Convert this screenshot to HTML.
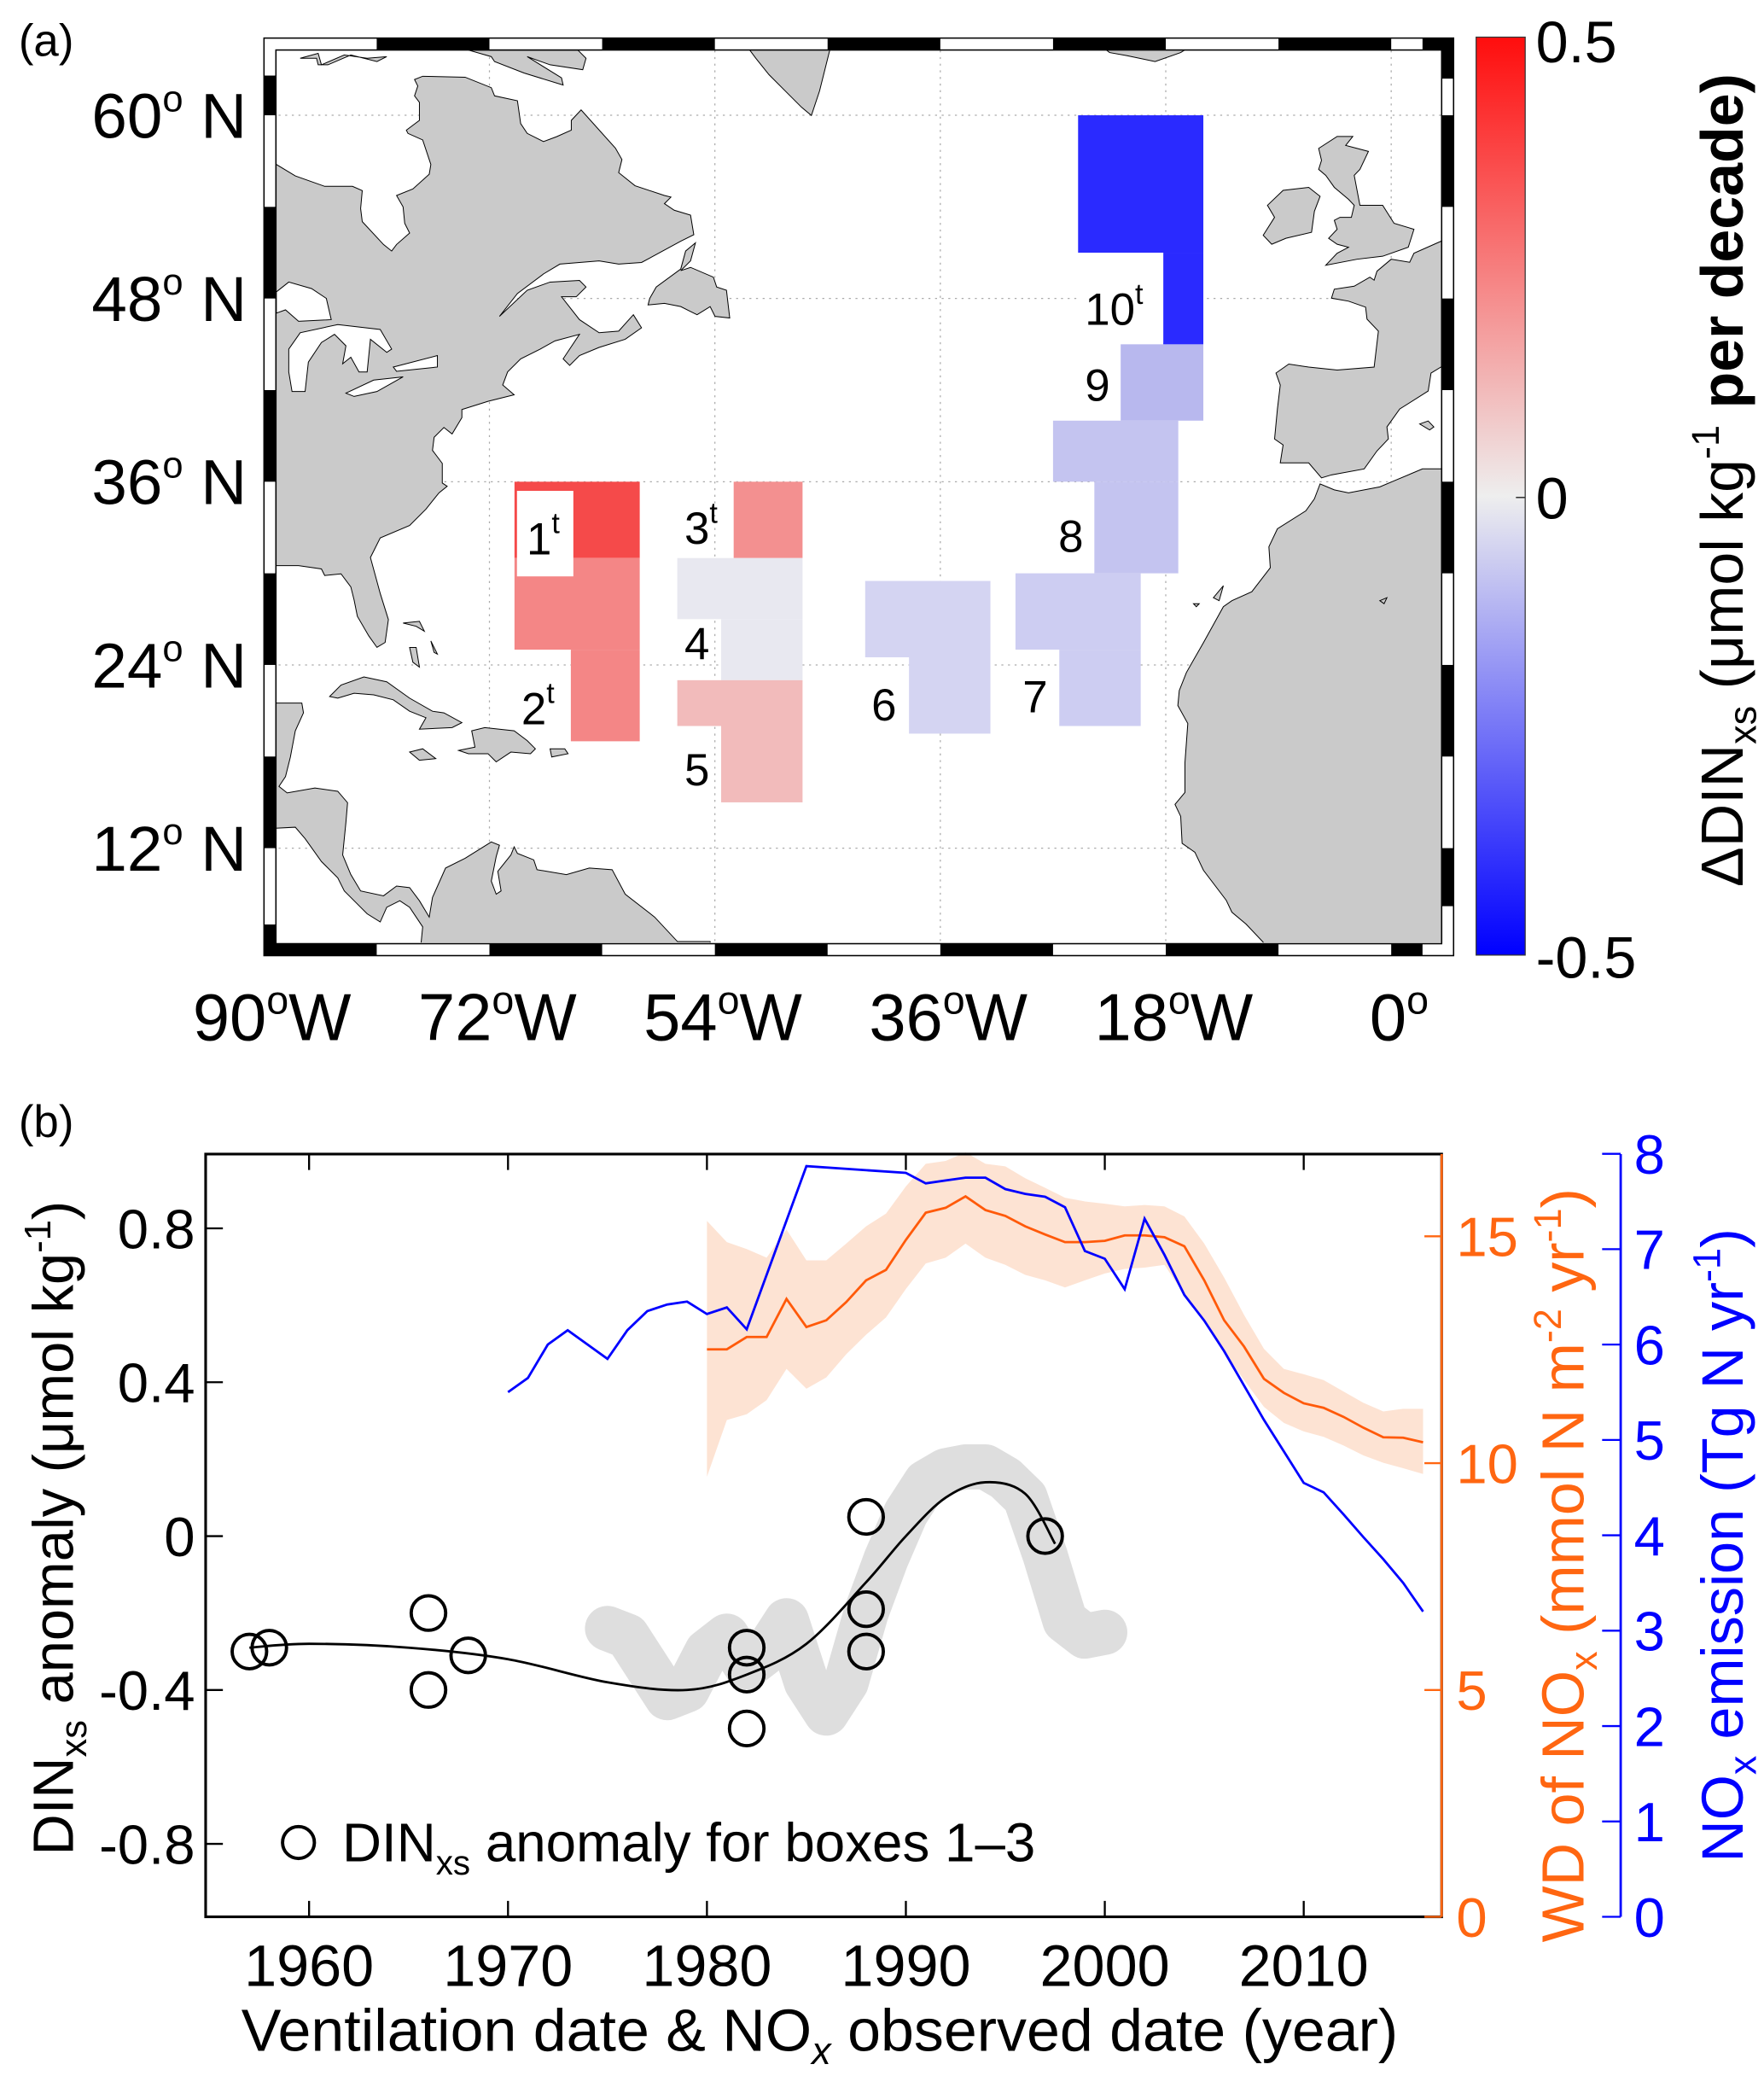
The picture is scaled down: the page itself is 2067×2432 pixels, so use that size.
<!DOCTYPE html>
<html><head><meta charset="utf-8">
<style>
html,body{margin:0;padding:0;background:#fff;}
svg{display:block;font-family:"Liberation Sans",Arial,sans-serif;}
</style></head>
<body>
<svg id="fig" width="2067" height="2432" viewBox="0 0 1330 1565" xmlns="http://www.w3.org/2000/svg">
<defs>
<linearGradient id="cbg" x1="0" y1="0" x2="0" y2="1">
<stop offset="0" stop-color="#ff0d0d"/><stop offset="0.5" stop-color="#eeeeee"/><stop offset="1" stop-color="#0000ff"/>
</linearGradient>
<clipPath id="mapclip"><rect x="208" y="37.8" width="879.5" height="672.7"/></clipPath>
<clipPath id="bclip"><rect x="155" y="868" width="932" height="577"/></clipPath>
</defs>

<!-- Panel a -->
<text x="14" y="42" font-size="34">(a)</text>
<g id="map">
<rect x="199" y="28.7" width="897" height="691.7" fill="#fff"/>
<g clip-path="url(#mapclip)" id="gridg"></g>
<g clip-path="url(#mapclip)">
<g transform="translate(193.05,19.3) scale(0.2463)" fill="#cacaca" stroke="#000">
<path vector-effect="non-scaling-stroke" stroke-width="1" d="M20,425 L62,425 L120,460 L210,492 L295,492 L325,505 L320,560 L325,600 L390,670 L415,690 L430,670 L470,635 L455,605 L450,555 L430,520 L480,500 L530,455 L535,425 L510,350 L465,330 L460,320 L500,290 L500,235 L485,215 L495,185 L485,165 L510,155 L640,158 L720,190 L730,215 L800,230 L810,300 L830,330 L880,355 L920,340 L965,320 L965,290 L995,258 L1100,375 L1120,410 L1110,450 L1160,490 L1250,520 L1270,525 L1250,545 L1280,565 L1330,580 L1340,640 L1300,660 L1180,725 L1110,730 L1050,720 L930,730 L880,760 L800,820 L745,890 L830,810 L900,785 L990,780 L1010,800 L980,830 L935,830 L990,900 L1050,940 L1110,935 L1155,885 L1180,925 L1130,960 L1050,985 L990,1010 L960,1040 L940,1020 L990,945 L915,965 L870,990 L810,1020 L770,1060 L755,1100 L790,1130 L710,1150 L630,1175 L630,1200 L600,1250 L575,1230 L545,1260 L540,1300 L570,1340 L570,1400 L585,1410 L560,1430 L520,1480 L470,1530 L380,1568 L350,1628 L380,1738 L405,1818 L395,1888 L370,1903 L345,1868 L310,1808 L300,1758 L290,1718 L260,1678 L210,1683 L200,1663 L130,1653 L62,1653 L20,1653 Z"/>
<path vector-effect="non-scaling-stroke" stroke-width="1" fill="#fff" d="M62,815 L100,785 L170,805 L215,835 L230,900 L130,905 L90,870 L62,880 Z"/>
<path vector-effect="non-scaling-stroke" stroke-width="1" fill="#fff" d="M100,990 L135,940 L250,915 L380,930 L415,990 L400,1000 L350,960 L340,1060 L315,1060 L290,1015 L265,1035 L275,980 L240,945 L200,970 L160,1030 L150,1120 L110,1120 L100,1060 Z"/>
<path vector-effect="non-scaling-stroke" stroke-width="1" fill="#fff" d="M275,1125 L360,1085 L450,1075 L370,1120 L300,1135 Z"/>
<path vector-effect="non-scaling-stroke" stroke-width="1" fill="#fff" d="M420,1045 L555,1010 L555,1045 L430,1058 Z"/>
<path vector-effect="non-scaling-stroke" stroke-width="1" d="M650,75 L720,95 L730,110 L820,145 L940,182 L935,160 L830,95 L900,120 L1000,135 L1010,100 L985,75 Z"/>
<path vector-effect="non-scaling-stroke" stroke-width="1" d="M135,100 L190,85 L200,120 L270,90 L340,100 L400,95 L370,110 L290,90 L220,120 L190,120 L185,100 Z"/>
<path vector-effect="non-scaling-stroke" stroke-width="1" d="M1205,835 L1225,800 L1300,745 L1315,690 L1345,665 L1330,720 L1300,750 L1330,740 L1400,770 L1410,800 L1440,810 L1450,895 L1405,890 L1390,860 L1350,885 L1330,875 L1300,860 L1250,850 L1200,855 Z"/>
<path vector-effect="non-scaling-stroke" stroke-width="1" d="M1500,60 L1530,100 L1570,150 L1620,200 L1670,250 L1700,275 L1725,200 L1745,120 L1760,60 Z"/>
</g>
<g transform="translate(193.05,353.9) scale(0.2463)" fill="#cacaca" stroke="#000">
<path vector-effect="non-scaling-stroke" stroke-width="1" d="M225,695 L260,660 L330,635 L400,650 L470,700 L540,740 L575,745 L630,775 L600,790 L500,795 L520,760 L470,740 L420,705 L360,690 L300,685 L250,700 Z"/>
<path vector-effect="non-scaling-stroke" stroke-width="1" d="M620,860 L670,850 L660,800 L700,790 L790,800 L830,830 L855,855 L840,870 L780,865 L735,895 L710,870 L650,870 Z"/>
<path vector-effect="non-scaling-stroke" stroke-width="1" d="M470,865 L510,855 L550,885 L500,890 Z"/>
<path vector-effect="non-scaling-stroke" stroke-width="1" d="M900,855 L945,855 L955,870 L905,880 Z"/>
<path vector-effect="non-scaling-stroke" stroke-width="1" d="M470,545 L490,545 L500,605 L480,590 Z M535,525 L555,565 L545,560 Z M450,470 L500,465 L515,495 L490,480 Z"/>
<path vector-effect="non-scaling-stroke" stroke-width="1" d="M20,715 L140,715 L145,745 L120,800 L105,880 L90,940 L70,970 L95,990 L180,975 L250,985 L280,1020 L275,1080 L265,1180 L290,1240 L320,1290 L390,1305 L430,1275 L470,1280 L500,1320 L530,1370 L540,1310 L580,1220 L640,1190 L720,1140 L745,1150 L735,1185 L720,1260 L735,1300 L750,1290 L740,1230 L780,1180 L790,1155 L800,1175 L850,1195 L860,1225 L950,1240 L1020,1220 L1090,1225 L1130,1300 L1220,1370 L1290,1445 L1390,1445 L1395,1500 L500,1500 L510,1400 L470,1340 L440,1320 L400,1340 L380,1385 L340,1360 L300,1320 L270,1290 L250,1250 L200,1200 L150,1130 L120,1095 L20,1100 Z"/>
</g>
<g transform="translate(836.6,19.3) scale(0.2145,0.4516)" fill="#cacaca" stroke="#000">
<path vector-effect="non-scaling-stroke" stroke-width="1" d="M-40,30 L300,30 L250,45 L160,60 L60,50 L0,45 Z"/>
<path vector-effect="non-scaling-stroke" stroke-width="1" d="M735,205 L800,185 L855,185 L830,200 L910,210 L880,240 L860,250 L880,300 L960,300 L1000,330 L1070,340 L1050,370 L960,385 L870,390 L760,400 L800,380 L840,370 L800,365 L770,355 L800,340 L790,325 L810,320 L850,320 L860,300 L840,290 L790,270 L760,250 L735,240 L745,225 Z"/>
<path vector-effect="non-scaling-stroke" stroke-width="1" d="M540,350 L580,320 L555,300 L610,275 L700,270 L740,285 L720,310 L710,345 L620,355 L570,365 Z"/>
<path vector-effect="non-scaling-stroke" stroke-width="1" d="M1200,355 L1165,360 L1070,380 L1055,395 L990,390 L940,410 L930,425 L915,420 L860,435 L790,440 L780,455 L840,460 L900,470 L905,490 L945,510 L930,570 L800,575 L700,570 L630,565 L585,580 L600,600 L590,640 L580,690 L610,700 L600,730 L700,730 L745,755 L780,750 L895,740 L940,710 L980,690 L975,670 L1020,640 L1120,610 L1130,580 L1165,570 L1200,570 Z"/>
<path vector-effect="non-scaling-stroke" stroke-width="1" d="M1200,738 L1165,740 L1100,740 L1000,760 L950,770 L840,780 L790,775 L740,765 L720,790 L690,810 L590,840 L560,870 L565,905 L500,945 L430,960 L400,970 L330,1030 L270,1080 L245,1110 L240,1135 L275,1165 L265,1230 L265,1280 L230,1300 L250,1320 L255,1365 L300,1380 L330,1410 L410,1460 L430,1480 L480,1500 L540,1530 L560,1560 L1200,1560 Z"/>
<path vector-effect="non-scaling-stroke" stroke-width="1" d="M1090,665 L1120,660 L1140,670 L1125,675 Z"/>
<path vector-effect="non-scaling-stroke" stroke-width="1" d="M950,960 L975,955 L965,965 Z M295,965 L315,965 L305,970 Z M365,955 L400,935 L385,960 Z"/>
</g>
</g>
<g id="boxes"></g>
<g font-size="34">
<text x="397" y="418">1<tspan dy="-16" font-size="22">t</tspan></text>
<text x="393" y="546">2<tspan dy="-16" font-size="22">t</tspan></text>
<text x="516" y="410">3<tspan dy="-16" font-size="22">t</tspan></text>
<text x="516" y="497">4</text>
<text x="516" y="592">5</text>
<text x="657" y="543">6</text>
<text x="771" y="537">7</text>
<text x="798" y="416">8</text>
<text x="818" y="302">9</text>
<text x="818" y="245">10<tspan dy="-16" font-size="22">t</tspan></text>
</g>
<g id="frame"></g>
</g>
<g id="latlabels" font-size="48" text-anchor="end"></g>
<g id="lonlabels" font-size="50" text-anchor="middle"></g>

<rect x="1113" y="28" width="37" height="692" fill="url(#cbg)" stroke="#333" stroke-width="0.8"/>
<line x1="1143" y1="375" x2="1150" y2="375" stroke="#333"/>
<g font-size="44">
<text x="1158" y="47">0.5</text>
<text x="1158" y="391">0</text>
<text x="1158" y="737">-0.5</text>
</g>
<text transform="translate(1314,362) rotate(-90)" text-anchor="middle" font-size="45">ΔDIN<tspan dy="10" font-size="29">xs</tspan><tspan dy="-10"> (μmol kg</tspan><tspan dy="-18" font-size="29">-1</tspan><tspan dy="18" font-weight="bold"> per decade)</tspan></text>

<!-- Panel b -->
<text x="14" y="857" font-size="34">(b)</text>
<g id="plotb">
<g clip-path="url(#bclip)" id="bmarks"></g>
<rect x="155" y="870" width="932" height="575" fill="none" stroke="#000" stroke-width="2"/>
<g id="baxes"></g>
</g>
<text transform="translate(55,1152) rotate(-90)" text-anchor="middle" font-size="43">DIN<tspan dy="10" font-size="28">xs</tspan><tspan dy="-10"> anomaly (μmol kg</tspan><tspan dy="-17" font-size="28">-1</tspan><tspan dy="17">)</tspan></text>
<text transform="translate(1194,1180) rotate(-90)" text-anchor="middle" font-size="45" fill="#ff6611">WD of NO<tspan dy="10" font-size="29">x</tspan><tspan dy="-10"> (mmol N m</tspan><tspan dy="-17" font-size="29">-2</tspan><tspan dy="17"> yr</tspan><tspan dy="-17" font-size="29">-1</tspan><tspan dy="17">)</tspan></text>
<text transform="translate(1314,1165) rotate(-90)" text-anchor="middle" font-size="44" fill="#0000ff">NO<tspan dy="10" font-size="29">x</tspan><tspan dy="-10"> emission (Tg N yr</tspan><tspan dy="-17" font-size="29">-1</tspan><tspan dy="17">)</tspan></text>
<text x="618" y="1546" text-anchor="middle" font-size="45">Ventilation date &amp; NO<tspan dy="10" font-size="29" font-style="italic">x</tspan><tspan dy="-10"> observed date (year)</tspan></text>
<g>
<circle cx="225" cy="1389" r="12" fill="none" stroke="#000" stroke-width="2.5"/>
<text x="258" y="1403" font-size="41">DIN<tspan dy="10" font-size="26">xs</tspan><tspan dy="-10"> anomaly for boxes 1–3</tspan></text>
</g>
</svg>
<script>
// ---------- Panel (a) data ----------
const latTicks=[60,48,36,24,12];
const lonTicks=[-90,-72,-54,-36,-18,0];
const lonTickText=["90","72","54","36","18","0"];
const boxNames=["box-1","box-2","box-3","box-4","box-5","box-6","box-7","box-8","box-9","box-10"];
const boxColors=["#f54a4a","#f48686","#f39090","#e8e8f0","#f2bbbb","#d4d4f2","#cdcdf2","#c4c4f0","#b8b8ee","#2a2aff"];
const boxRects=[
 [[-70,36,-60,31]],
 [[-70,31,-60,25],[-65.5,25,-60,19]],
 [[-52.5,36,-47,31]],
 [[-57,31,-47,27],[-53.5,27,-47,23]],
 [[-57,23,-47,20],[-53.5,20,-47,15]],
 [[-42,29.5,-32,24.5],[-38.5,24.5,-32,19.5]],
 [[-30,30,-20,25],[-26.5,25,-20,20]],
 [[-27,40,-17,36],[-23.7,36,-17,30]],
 [[-21.6,45,-15,40]],
 [[-25,60,-15,51],[-18.2,51,-15,45]]
];
const NS="http://www.w3.org/2000/svg";
const lx=lon=>199+(lon+90)*9.444;
const ly=lat=>86.9+(60-lat)*11.51;
function mk(tag,attrs,parent){const e=document.createElementNS(NS,tag);for(const k in attrs)e.setAttribute(k,attrs[k]);parent.appendChild(e);return e;}
const gridg=document.getElementById('gridg');
latTicks.forEach(t=>{const l=mk('line',{x1:200,x2:1098,y1:ly(t),y2:ly(t),stroke:'#aaa','stroke-width':0.8,'stroke-dasharray':'1.5,3.5'},gridg);

});
lonTicks.forEach(t=>{const l=mk('line',{x1:lx(t),x2:lx(t),y1:28,y2:720,stroke:'#aaa','stroke-width':0.8,'stroke-dasharray':'1.5,3.5'},gridg);

});
const boxes=document.getElementById('boxes');
boxRects.forEach((rs,i)=>{rs.forEach(r=>{
 const x1=lx(r[0]),x2=lx(r[2]),y1=ly(r[1]),y2=ly(r[3]);
 const e=mk('rect',{x:x1,y:y1,width:x2-x1,height:y2-y1,fill:boxColors[i]},boxes);
 
 
});});
const wb=mk('rect',{x:lx(-69.8),y:ly(35.4),width:lx(-65.3)-lx(-69.8),height:ly(29.8)-ly(35.4),fill:'#fff'},boxes);


const wb2=mk('rect',{x:lx(-25),y:ly(51),width:lx(-18.2)-lx(-25),height:ly(45.1)-ly(51),fill:'#fff'},boxes);


const frame=document.getElementById('frame');
const FL=199,FR=1096,FT=28.7,FB=720.4,BW=9;
const topBlack=[[-81,-72],[-63,-54],[-45,-36],[-27,-18],[-9,0],[2.5,5]];
const botBlack=[[-90,-81],[-72,-63],[-54,-45],[-36,-27],[-18,-9],[0,2.5]];
const leftBlack=[[62.6,60],[54,48],[42,36],[30,24],[18,12],[7,4]];
const rightBlack=[[64.5,62.4],[60,54],[48,42],[36,30],[24,18],[12,8.2]];
topBlack.forEach(s=>{const a=Math.max(FL,lx(s[0])),b=Math.min(FR,lx(s[1]));mk('rect',{x:a,y:FT,width:b-a,height:BW,fill:'#000'},frame);});
botBlack.forEach(s=>{const a=Math.max(FL,lx(s[0])),b=Math.min(FR,lx(s[1]));mk('rect',{x:a,y:FB-BW,width:b-a,height:BW,fill:'#000'},frame);});
leftBlack.forEach(s=>{const a=Math.max(FT,ly(s[0])),b=Math.min(FB,ly(s[1]));mk('rect',{x:FL,y:a,width:BW,height:b-a,fill:'#000'},frame);});
rightBlack.forEach(s=>{const a=Math.max(FT,ly(s[0])),b=Math.min(FB,ly(s[1]));mk('rect',{x:FR-BW,y:a,width:BW,height:b-a,fill:'#000'},frame);});
mk('rect',{x:FL,y:FT,width:FR-FL,height:FB-FT,fill:'none',stroke:'#000','stroke-width':1},frame);
mk('rect',{x:FL+BW,y:FT+BW,width:FR-FL-2*BW,height:FB-FT-2*BW,fill:'none',stroke:'#000','stroke-width':1},frame);
const latg=document.getElementById('latlabels');
latTicks.forEach(t=>{const e=mk('text',{x:186,y:ly(t)+17},latg);
 e.innerHTML=t+'<tspan dy="-20" font-size="28">o</tspan><tspan dy="20"> N</tspan>';
 
 });
const long=document.getElementById('lonlabels');
lonTicks.forEach((t,i)=>{const e=mk('text',{x:lx(t)+6,y:784},long);
 e.innerHTML=lonTickText[i]+'<tspan dy="-20" font-size="30">o</tspan><tspan dy="20">'+(t<0?'W':'')+'</tspan>';
 
 });

// ---------- Panel (b) data ----------
const xTicks=[1960,1970,1980,1990,2000,2010];
const yTicks=[0.8,0.4,0,-0.4,-0.8];
const yTickText=["0.8","0.4","0","-0.4","-0.8"];
const wdTicks=[0,5,10,15];
const emTicks=[0,1,2,3,4,5,6,7,8];
const emYears=[1970,1971,1972,1973,1974,1975,1976,1977,1978,1979,1980,1981,1982,1985,1990,1991,1992,1993,1994,1995,1996,1997,1998,1999,2000,2001,2002,2003,2004,2005,2006,2007,2008,2009,2010,2011,2012,2013,2014,2015,2016];
const emValues=[5.5,5.65,6.0,6.15,6.0,5.85,6.15,6.35,6.42,6.45,6.32,6.39,6.16,7.87,7.80,7.69,7.72,7.75,7.75,7.63,7.58,7.55,7.44,6.98,6.90,6.58,7.32,6.94,6.52,6.25,5.93,5.57,5.21,4.88,4.55,4.45,4.22,3.98,3.75,3.5,3.2];
const wdYears=[1980,1981,1982,1983,1984,1985,1986,1987,1988,1989,1990,1991,1992,1993,1994,1995,1996,1997,1998,1999,2000,2001,2002,2003,2004,2005,2006,2007,2008,2009,2010,2011,2012,2013,2014,2015,2016];
const wdValues=[12.51,12.51,12.78,12.78,13.62,13.0,13.15,13.55,14.03,14.26,14.92,15.52,15.63,15.88,15.58,15.45,15.22,15.04,14.87,14.87,14.9,15.02,15.02,14.98,14.78,14.03,13.15,12.57,11.86,11.55,11.32,11.22,11.02,10.78,10.57,10.56,10.46];
const wdUpper=[15.34,14.87,14.72,14.53,15.15,14.47,14.47,14.84,15.22,15.5,16.1,16.6,16.66,16.85,16.6,16.54,16.28,16.07,15.85,15.77,15.72,15.66,15.69,15.66,15.44,14.84,14.09,13.27,12.52,12.08,11.96,11.83,11.58,11.33,11.14,11.2,11.2];
const wdLower=[9.7,10.95,11.08,11.39,12.08,11.64,11.89,12.4,12.83,13.21,13.84,14.4,14.53,14.84,14.53,14.37,14.15,14.03,13.87,14.03,14.18,14.28,14.31,14.37,13.71,13.15,12.46,11.83,11.24,10.89,10.7,10.58,10.39,10.17,10.01,9.89,9.76];
const grayYears=[1975,1976,1977,1978,1979,1980,1981,1982,1983,1984,1985,1986,1987,1988,1989,1990,1991,1992,1993,1994,1995,1996,1997,1998,1999,2000];
const grayValues=[-0.24,-0.26,-0.34,-0.42,-0.40,-0.30,-0.26,-0.34,-0.30,-0.22,-0.38,-0.46,-0.38,-0.20,-0.06,0.06,0.14,0.17,0.18,0.18,0.15,0.10,-0.05,-0.22,-0.26,-0.25];
const fitYears=[1957,1960,1965,1970,1975,1979,1982,1985,1988,1990,1992,1994,1996,1997.5];
const fitValues=[-0.29,-0.28,-0.29,-0.32,-0.38,-0.40,-0.36,-0.28,-0.12,0.0,0.10,0.14,0.11,-0.02];
const ptYears=[1957,1958,1966,1966,1968,1982,1982,1982,1988,1988,1988,1997];
const ptValues=[-0.30,-0.29,-0.20,-0.40,-0.31,-0.29,-0.36,-0.50,0.05,-0.19,-0.30,0.0];

const X=yr=>233+(yr-1960)*15.0;
const Y=v=>1158-v*290;
const YW=v=>1445-v*34.2;
const YE=v=>1445-v*71.9;
const bm=document.getElementById('bmarks');
function pts(xs,ys,fx,fy){return xs.map((x,i)=>fx(x).toFixed(1)+','+fy(ys[i]).toFixed(1));}
const gp=mk('polyline',{points:pts(grayYears,grayValues,X,Y).join(' '),fill:'none',stroke:'#dedede','stroke-width':34,'stroke-linejoin':'round','stroke-linecap':'round'},bm);


const up=pts(wdYears,wdUpper,X,YW), lo=pts(wdYears,wdLower,X,YW).reverse();
const band=mk('polygon',{points:up.concat(lo).join(' '),fill:'#fde3d3'},bm);


const wl=mk('polyline',{points:pts(wdYears,wdValues,X,YW).join(' '),fill:'none',stroke:'#ff5a0a','stroke-width':1.8},bm);


const el=mk('polyline',{points:pts(emYears,emValues,X,YE).join(' '),fill:'none',stroke:'#0000ff','stroke-width':1.8},bm);


const P=fitYears.map((x,i)=>[X(x),Y(fitValues[i])]);
let d='M'+P[0][0]+','+P[0][1];
for(let i=0;i<P.length-1;i++){const p0=P[Math.max(0,i-1)],p1=P[i],p2=P[i+1],p3=P[Math.min(P.length-1,i+2)];
 d+=' C'+(p1[0]+(p2[0]-p0[0])/6)+','+(p1[1]+(p2[1]-p0[1])/6)+' '+(p2[0]-(p3[0]-p1[0])/6)+','+(p2[1]-(p3[1]-p1[1])/6)+' '+p2[0]+','+p2[1];}
const fl=mk('path',{d:d,fill:'none',stroke:'#000','stroke-width':1.8},bm);


ptYears.forEach((x,i)=>{const c=mk('circle',{cx:X(x),cy:Y(ptValues[i]),r:13,fill:'none',stroke:'#000','stroke-width':2.5},bm);
 
 });
const ax=document.getElementById('baxes');
xTicks.forEach(t=>{mk('line',{x1:X(t),x2:X(t),y1:1445,y2:1433,stroke:'#000','stroke-width':1.5},ax);
 mk('line',{x1:X(t),x2:X(t),y1:870,y2:882,stroke:'#000','stroke-width':1.5},ax);
 const e=mk('text',{x:X(t),y:1497,'font-size':44,'text-anchor':'middle'},ax);e.textContent=t;
 
 });
yTicks.forEach((t,i)=>{mk('line',{x1:155,x2:168,y1:Y(t),y2:Y(t),stroke:'#000','stroke-width':1.5},ax);
 const e=mk('text',{x:147,y:Y(t)+15,'font-size':42,'text-anchor':'end'},ax);e.textContent=yTickText[i];
 
 });
mk('line',{x1:1087,x2:1087,y1:870,y2:1445,stroke:'#ff6611','stroke-width':1.8},ax);
wdTicks.forEach(t=>{mk('line',{x1:1074,x2:1087,y1:YW(t),y2:YW(t),stroke:'#ff6611','stroke-width':1.5},ax);
 const e=mk('text',{x:1098,y:YW(t)+15,'font-size':42,fill:'#ff6611'},ax);e.textContent=t;
 
 });
mk('line',{x1:1222,x2:1222,y1:870,y2:1445,stroke:'#0000ff','stroke-width':1.8},ax);
emTicks.forEach(t=>{mk('line',{x1:1208,x2:1222,y1:YE(t),y2:YE(t),stroke:'#0000ff','stroke-width':1.5},ax);
 const e=mk('text',{x:1232,y:YE(t)+15,'font-size':42,fill:'#0000ff'},ax);e.textContent=t;
 
 });
</script>
</body></html>
